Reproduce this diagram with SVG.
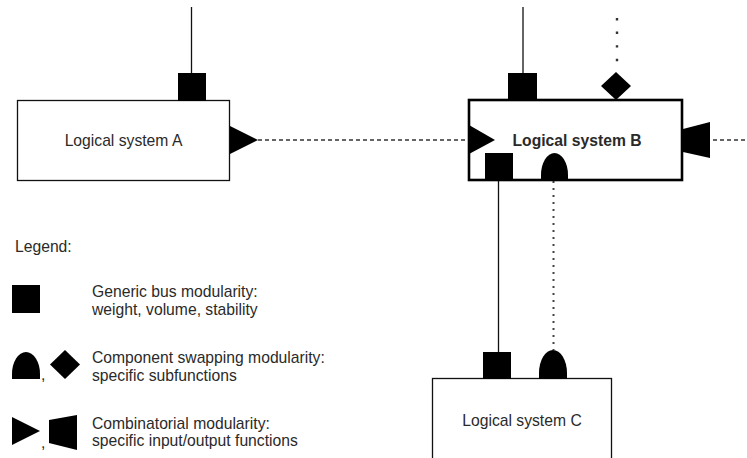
<svg xmlns="http://www.w3.org/2000/svg" width="747" height="458" viewBox="0 0 747 458">
<style>
.box{fill:#fff;stroke:#111;stroke-width:1.3}
.boxb{fill:#fff;stroke:#000;stroke-width:2.6}
.sym{fill:#000;stroke:none}
.t{font-family:"Liberation Sans",Arial,sans-serif;font-size:15.7px;fill:#2a2a2a}
.tb{font-family:"Liberation Sans",Arial,sans-serif;font-size:15.7px;font-weight:bold;fill:#2a2a2a}
.solid{stroke:#111;stroke-width:1.3;fill:none}
.dash{stroke:#333;stroke-width:1.6;stroke-dasharray:4 3;fill:none}
.dot{stroke:#444;stroke-width:2;stroke-dasharray:2 5;fill:none}
.dot2{stroke:#333;stroke-width:2.4;stroke-dasharray:2.4 11.2;fill:none}
</style>
<rect width="747" height="458" fill="#fff"/>
<g id="connectors">
<line class="solid" x1="191.5" y1="7" x2="191.5" y2="73"/>
<line class="solid" x1="523" y1="7" x2="523" y2="73" stroke-width="1.8"/>
<line class="dot2" x1="617" y1="18" x2="617" y2="70"/>
<line class="dash" x1="258" y1="140" x2="469" y2="140"/>
<line class="dash" x1="713" y1="140" x2="747" y2="140"/>
<line class="solid" x1="498.5" y1="180" x2="498.5" y2="352"/>
<line class="dot" x1="553.5" y1="181" x2="553.5" y2="350"/>
</g>
<g id="systemA">
<rect class="box" x="17.5" y="100.5" width="212" height="80"/>
<rect class="sym" x="178" y="73" width="28" height="28"/>
<polygon class="sym" points="230,126 258,140 230,154"/>
<text class="t" x="123.5" y="146" text-anchor="middle">Logical system A</text>
</g>
<g id="systemB">
<rect class="boxb" x="469" y="100" width="213" height="80"/>
<rect class="sym" x="508" y="73" width="29" height="28"/>
<polygon class="sym" points="616,72 631,86 616,100 601,86"/>
<polygon class="sym" points="469,125 495,140 469,154"/>
<polygon class="sym" points="683,129 710,122 710,158 683,152"/>
<rect class="sym" x="485" y="153" width="28" height="27"/>
<path class="sym" d="M541,180 L541,175 A13.5,22 0 0 1 568,175 L568,180 Z"/>
<text class="tb" x="577" y="146" text-anchor="middle">Logical system B</text>
</g>
<g id="systemC">
<rect class="box" x="432.5" y="378.5" width="179" height="100"/>
<rect class="sym" x="483" y="352" width="28" height="27"/>
<path class="sym" d="M539,379 L539,373 A14,23 0 0 1 567,373 L567,379 Z"/>
<text class="t" x="522" y="426" text-anchor="middle">Logical system C</text>
</g>
<g id="legend">
<text class="t" x="15" y="252">Legend:</text>
<rect class="sym" x="12" y="285" width="28" height="28"/>
<text class="t" x="92" y="297">Generic bus modularity:</text>
<text class="t" x="92" y="314.5">weight, volume, stability</text>
<path class="sym" d="M12,379 L12,374 A14,22 0 0 1 40,374 L40,379 Z"/>
<text class="t" x="41" y="380" font-size="9px">,</text>
<polygon class="sym" points="65,350 80,364.5 65,379 50,364.5"/>
<text class="t" x="92" y="363">Component swapping modularity:</text>
<text class="t" x="92" y="380.5">specific subfunctions</text>
<polygon class="sym" points="12,417 40,431 12,445"/>
<text class="t" x="41" y="448" font-size="9px">,</text>
<polygon class="sym" points="49,420 77,415 77,450 49,443"/>
<text class="t" x="92" y="428.5">Combinatorial modularity:</text>
<text class="t" x="92" y="446">specific input/output functions</text>
</g>
</svg>
